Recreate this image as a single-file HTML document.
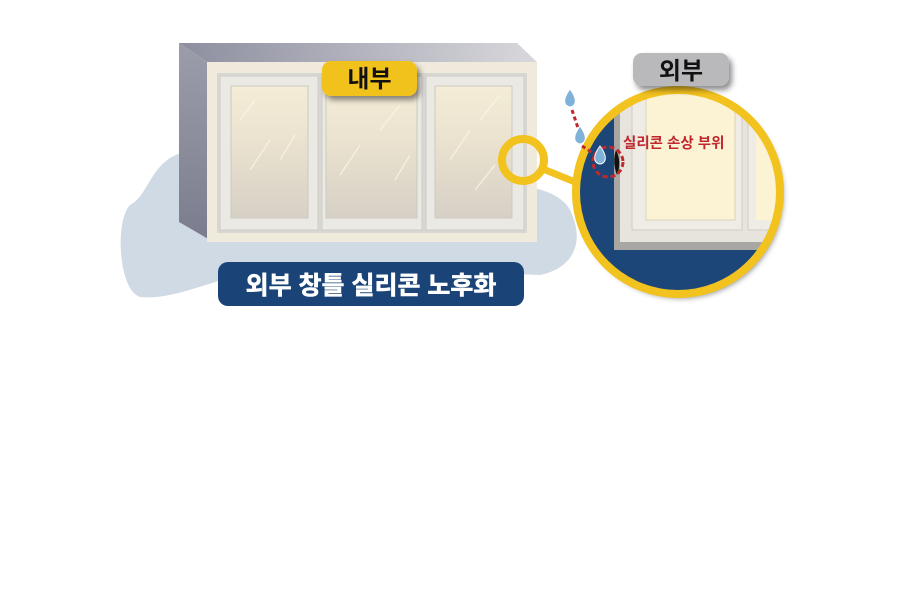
<!DOCTYPE html>
<html><head><meta charset="utf-8"><style>
body{margin:0;background:#fff;}
svg{display:block;font-family:"Liberation Sans","Noto Sans CJK KR",sans-serif;}
</style></head><body>
<svg width="900" height="600" viewBox="0 0 900 600">
<defs>
<linearGradient id="top" x1="0" x2="1"><stop offset="0" stop-color="#8d8e9f"/><stop offset="1" stop-color="#d8d8dc"/></linearGradient>
<linearGradient id="side" x1="0" y1="0" x2="0" y2="1"><stop offset="0" stop-color="#9c9dab"/><stop offset="1" stop-color="#7b7d8e"/></linearGradient>
<linearGradient id="glass" x1="0" y1="0" x2="0" y2="1"><stop offset="0" stop-color="#f3ecd6"/><stop offset="0.4" stop-color="#ebe3cf"/><stop offset="1" stop-color="#d6d0c6"/></linearGradient>
<filter id="sh" x="-20%" y="-20%" width="150%" height="160%"><feDropShadow dx="3" dy="4" stdDeviation="3" flood-color="#000" flood-opacity="0.45"/></filter>
<clipPath id="bc"><circle cx="678" cy="192" r="102"/></clipPath>
</defs>
<path d="M185,152 C150,160 150,195 130,205 C115,220 118,290 140,297 C170,300 200,285 240,275 C330,262 420,270 540,275 C575,268 585,240 570,210 C560,190 520,180 470,185 L200,180 Z" fill="#d0dae4"/>
<polygon points="179,43 517,43 537,62 207,62" fill="url(#top)"/>
<polygon points="179,43 207,62 210,240 179,222" fill="url(#side)"/>
<rect x="207" y="62" width="330" height="180" fill="#efeadb"/>
<rect x="217" y="73" width="310" height="160" fill="#d9d7d2"/>
<g fill="#ebe9e4" stroke="#cfcdc8">
<rect x="220" y="76" width="98" height="154"/>
<rect x="322" y="76" width="100" height="154"/>
<rect x="426" y="76" width="98" height="154"/>
</g>
<g fill="url(#glass)" stroke="#cdc9bf">
<rect x="231" y="86" width="77" height="132"/>
<rect x="326" y="86" width="91" height="132"/>
<rect x="435" y="86" width="77" height="132"/>
</g>
<g stroke="#fbf6e6" stroke-width="1.5" opacity="0.7">
<line x1="240" y1="120" x2="255" y2="100"/><line x1="250" y1="170" x2="270" y2="140"/><line x1="280" y1="160" x2="295" y2="135"/>
<line x1="340" y1="175" x2="360" y2="145"/><line x1="380" y1="130" x2="400" y2="105"/><line x1="395" y1="180" x2="410" y2="155"/>
<line x1="450" y1="160" x2="470" y2="130"/><line x1="480" y1="120" x2="500" y2="95"/><line x1="475" y1="190" x2="495" y2="165"/>
</g>
<rect x="322" y="61" width="95" height="35" rx="9" fill="#f2c21f" filter="url(#sh)"/>
<text x="369.5" y="87" text-anchor="middle" font-size="24" font-weight="bold" fill="#111">내부</text>
<rect x="218" y="262" width="306" height="44" rx="10" fill="#1a4478"/>
<text x="371" y="294" text-anchor="middle" font-size="25" font-weight="bold" fill="#fff" stroke="#fff" stroke-width="0.6">외부 창틀 실리콘 노후화</text>
<line x1="543" y1="169" x2="580" y2="184" stroke="#f2c21f" stroke-width="7"/>
<circle cx="523" cy="160" r="21" fill="none" stroke="#f2c21f" stroke-width="8"/>
<g filter="url(#sh)"><circle cx="678" cy="192" r="102" fill="#1a4478"/></g>
<g clip-path="url(#bc)">
<rect x="614" y="95" width="180" height="155" fill="#a8a7a4"/>
<rect x="620" y="90" width="174" height="152" fill="#e6e4dc"/>
<rect x="632" y="90" width="110" height="140" fill="#eeece5" stroke="#cfccc4"/>
<rect x="646" y="90" width="89" height="130" fill="#fbf3d4" stroke="#d8d3c0"/>
<rect x="748" y="90" width="50" height="140" fill="#eeece5" stroke="#cfccc4"/>
<rect x="756" y="90" width="40" height="130" fill="#fbf3d4"/>
</g>
<circle cx="678" cy="192" r="102" fill="none" stroke="#f2c21f" stroke-width="8"/>
<rect x="633" y="53" width="96" height="33" rx="9" fill="#b9b9bb" filter="url(#sh)"/>
<text x="681" y="79" text-anchor="middle" font-size="24" font-weight="bold" fill="#111">외부</text>
<path d="M616,150 Q622,162 617,175 Q612,162 616,150Z" fill="#111"/>
<path d="M572,110 L578,128 M582,146 L596,155" stroke="#c0282d" stroke-width="3" stroke-dasharray="4,3"/>
<circle cx="608" cy="162" r="15" fill="none" stroke="#c0282d" stroke-width="3" stroke-dasharray="5,3"/>
<g fill="#7fb2d8" stroke="#fff" stroke-width="1">
<path d="M570,89 Q578,100 574,105 Q570,109 566,105 Q562,100 570,89Z"/>
<path d="M580,126 Q588,137 584,142 Q580,146 576,142 Q572,137 580,126Z"/>
<path d="M600,146 Q608,157 604,162 Q600,166 596,162 Q592,157 600,146Z"/>
</g>
<text x="623" y="148" font-size="14.5" font-weight="bold" fill="#c0282d">실리콘 손상 부위</text>
</svg>
</body></html>
